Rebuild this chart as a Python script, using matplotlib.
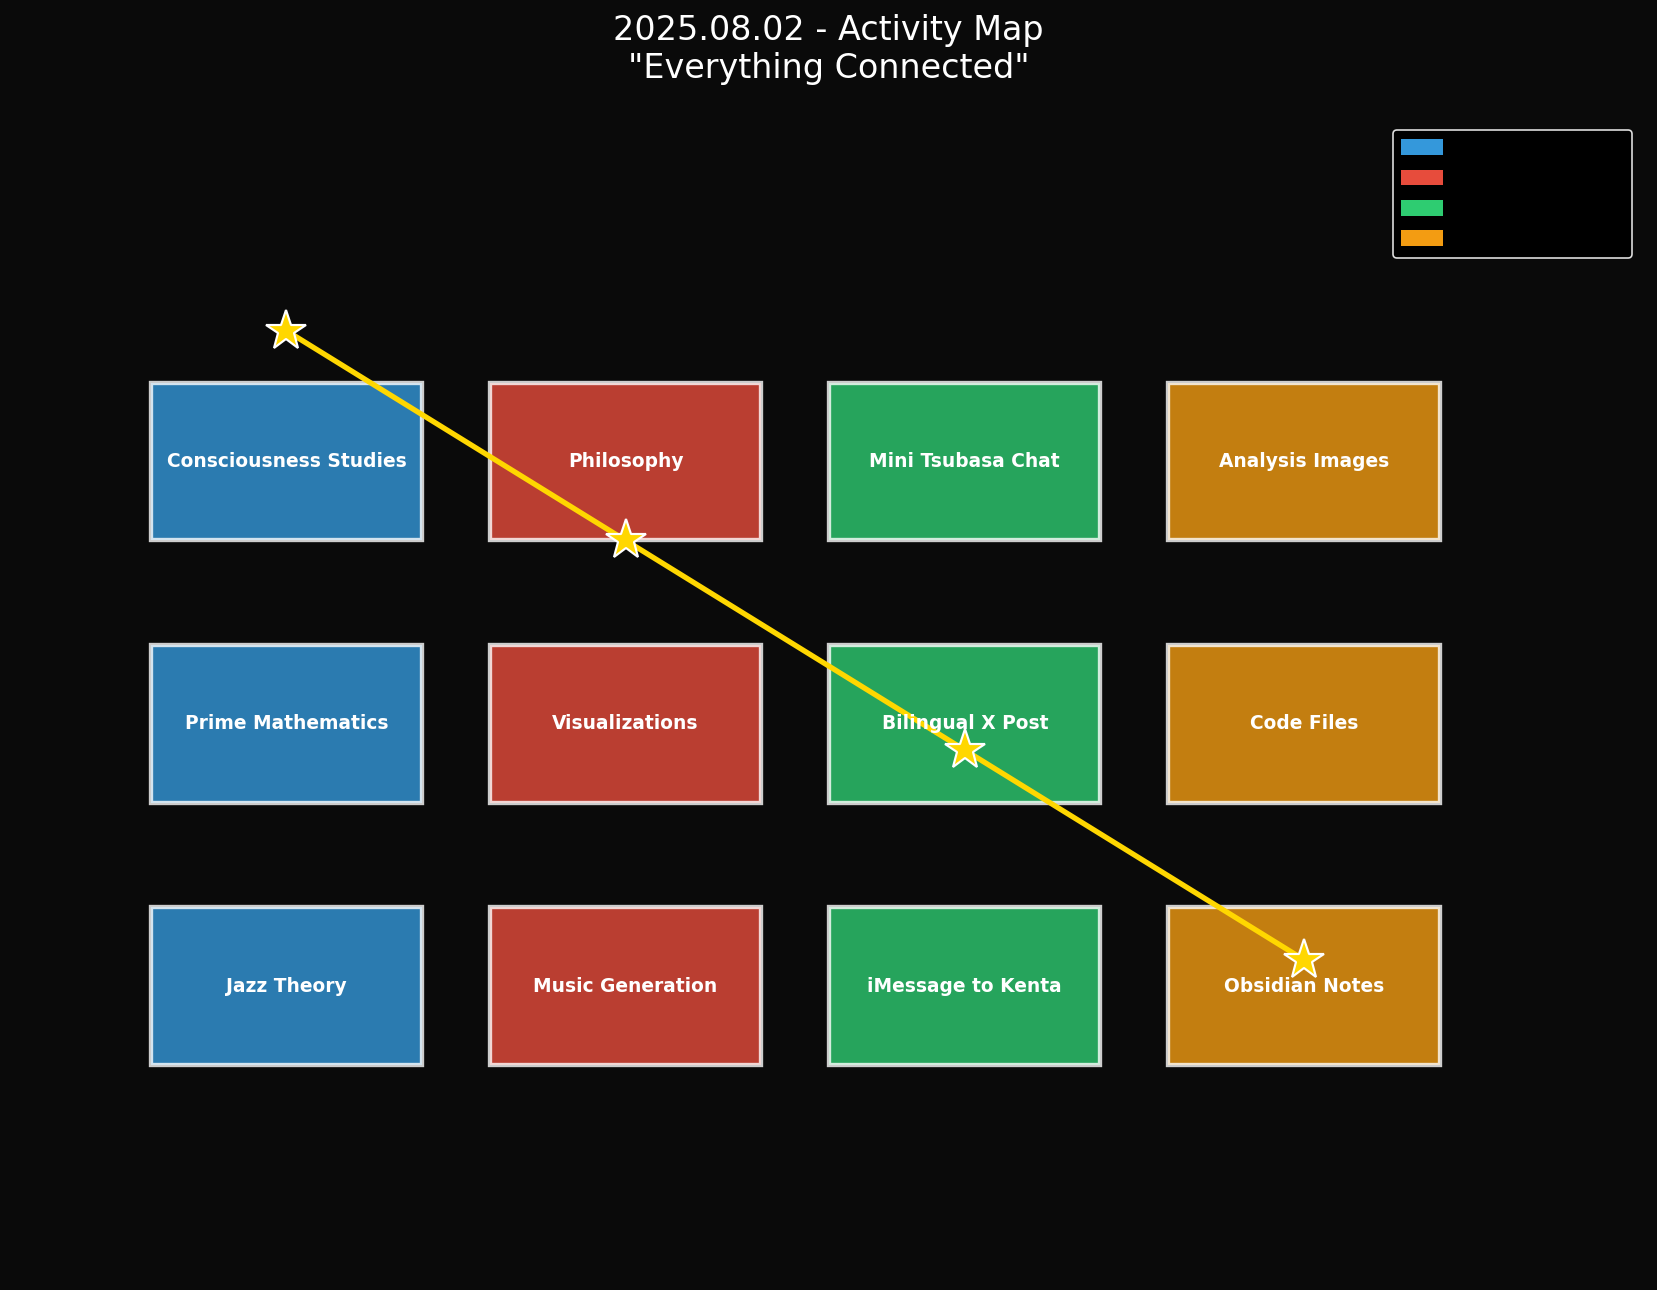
import matplotlib
matplotlib.use("Agg")
import matplotlib.pyplot as plt
from matplotlib.patches import Rectangle, Patch

categories = ["Research", "Creation", "Communication", "Documentation"]
colors = ["#3498db", "#e74c3c", "#2ecc71", "#f39c12"]
activities = [
    ["Consciousness Studies", "Prime Mathematics", "Jazz Theory"],
    ["Philosophy", "Visualizations", "Music Generation"],
    ["Mini Tsubasa Chat", "Bilingual X Post", "iMessage to Kenta"],
    ["Analysis Images", "Code Files", "Obsidian Notes"],
]
row_y = [2, 1, 0]
path_x = [0, 1, 2, 3]
path_y = [2.5, 1.7, 0.9, 0.1]

W, H, DPI = 1657, 1290, 120
fig = plt.figure(figsize=(W / DPI, H / DPI), dpi=DPI, facecolor="#0a0a0a")
ax = fig.add_axes([0, 0, 1, 1])
ax.set_facecolor("#0a0a0a")

# pixel mapping
x0, dx = 286.4, 339.2
y0top, dy = 461.8, 262.1
ax.set_xlim(-x0 / dx, (W - x0) / dx)
ax.set_ylim(2 - (H - y0top) / dy, 2 + y0top / dy)
ax.axis("off")

bw, bh = 0.8, 0.6
for ci, (col, c) in enumerate(zip(activities, colors)):
    for ri, name in enumerate(col):
        y = row_y[ri]
        ax.add_patch(Rectangle((ci - bw / 2, y - bh / 2), bw, bh, facecolor=c,
                               edgecolor="white", linewidth=2.6, alpha=0.8, zorder=1))
        ax.text(ci, y, name, ha="center", va="center", color="white",
                fontsize=11.2, fontweight="bold", zorder=4)

ax.plot(path_x, path_y, color="#FFD700", linewidth=3.2, zorder=2)
ax.plot(path_x, path_y, linestyle="none", marker="*", markersize=25,
        markerfacecolor="#FFD700", markeredgecolor="white", markeredgewidth=1.3, zorder=3)

fig.text(0.5, 1 - 49.5 / H, '2025.08.02 - Activity Map\n"Everything Connected"',
         ha="center", va="center", color="white", fontsize=20, linespacing=1.2)

handles = [Patch(facecolor=c, label=l) for c, l in zip(colors, categories)]
leg = ax.legend(handles=handles, loc="upper right",
                bbox_to_anchor=(1632 / W, 1 - 130 / H), bbox_transform=fig.transFigure,
                borderaxespad=0, fontsize=12.5, facecolor="black", edgecolor="#dddddd",
                labelcolor="black", framealpha=1, handleheight=0.8)

fig.savefig("out.png", dpi=DPI, facecolor=fig.get_facecolor())
